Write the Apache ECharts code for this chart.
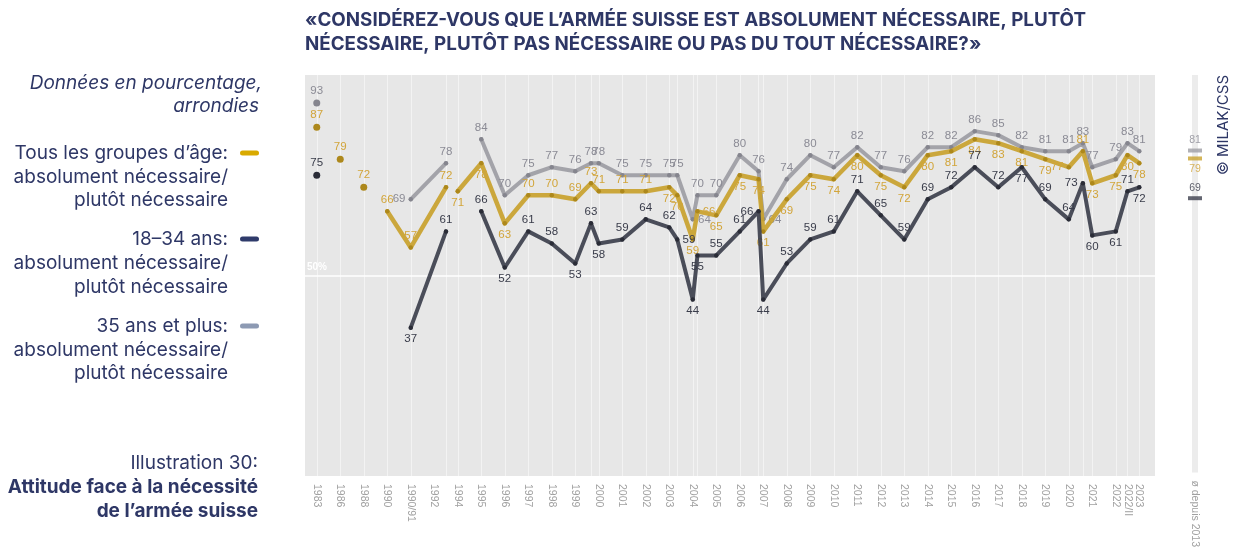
<!DOCTYPE html>
<html><head><meta charset="utf-8">
<script src="https://cdn.jsdelivr.net/npm/echarts@6/dist/echarts.min.js"></script>
<style>html,body{margin:0;padding:0;background:#fff}#c{width:1236px;height:550px}</style>
</head><body><div id="c"></div>
<script>
// ---- data ----
const surveyX = [0,1,2,3,4,5.5,6,7,8,9,10,11,11.67,12,13,14,15,15.34,16,16.2,17,18,18.8,19,20,21,22,23,24,25,26,27,28,29,30,31,32,32.6,33,34,34.5,35];
const tousAges = [87,79,72,66,57,72,71,78,63,70,70,69,73,71,71,71,72,70,59,66,65,75,74,61,69,75,74,80,75,72,80,81,84,83,81,79,77,81,73,75,80,78];
const ans35plus = [93,null,null,null,69,78,null,84,70,75,77,76,78,78,75,75,75,75,64,70,70,80,76,64,74,80,77,82,77,76,82,82,86,85,82,81,81,83,77,79,83,81];
const ans18_34 = [75,null,null,null,37,61,null,66,52,61,58,53,63,58,59,64,62,59,44,55,55,61,66,44,53,59,61,71,65,59,69,72,77,72,77,69,64,73,60,61,71,72];
const tousBreaksAfter = [0,1,2,5];
const xTickPos = [0,1,2,3,4,5,6,7,8,9,10,11,12,13,14,15,16,17,18,19,20,21,22,23,24,25,26,27,28,29,30,31,32,33,34,34.5,35];
const xTickLabels = ['1983','1986','1988','1990','1990/91','1992','1994','1995','1996','1997','1998','1999','2000','2001','2002','2003','2004','2005','2006','2007','2008','2009','2010','2011','2012','2013','2014','2015','2016','2017','2018','2019','2020','2021','2022','2022/II','2023'];
const avgLabel = 'ø depuis 2013';
const avgTous = 79, avg18_34 = 69, avg35plus = 81;

// ---- label placement (style) ----
const posTous = 'ttttttbbbtttttttbbbrbbbbbbbbbbbbbbbbltbbbb';
const pos35 = 't---lt-tttttttttttrttttrtttttttttttttttttt';
const pos18 = 't---bt-tbttbtbtttrbbttlbttttttttttbttlbbtb';
const posMap = {t:'top', b:'bottom', l:'left', r:'right'};

const NAVY = '#2e3766';
function buildData(vals, posStr, breaksAfter) {
  const out = [];
  vals.forEach((v, i) => {
    const x = surveyX[i];
    if (v === null) { out.push({value:[x,'-']}); }
    else {
      const prevOk = i > 0 && vals[i-1] !== null && !breaksAfter.includes(i-1);
      const nextOk = i < vals.length-1 && vals[i+1] !== null && !breaksAfter.includes(i);
      const isolated = !prevOk && !nextOk;
      out.push({value:[x,v], symbolSize: isolated ? 7 : 4.5, label:{position: posMap[posStr[i]] || 'top'}});
    }
    if (breaksAfter.includes(i) && i < vals.length-1) out.push({value:[(x+surveyX[i+1])/2,'-']});
  });
  return out;
}
function lineSeries(name, vals, posStr, breaks, lineColor, dotColor, labelColor, width, z) {
  return {
    name, type:'line', xAxisIndex:0, yAxisIndex:0, z,
    data: buildData(vals, posStr, breaks),
    connectNulls:false, symbol:'circle', showSymbol:true,
    lineStyle:{color:lineColor, width, opacity:0.92, cap:'round', join:'round'},
    itemStyle:{color:dotColor},
    label:{show:true, distance:3, color:labelColor, fontSize:11.5, fontFamily:'Liberation Sans, Arial, sans-serif',
      formatter: p => p.value[1]},
    emphasis:{disabled:true}, animation:false
  };
}

const gridLeft = 305, gridWidth = 850, gridTop = 75, gridBottom = 74;

const txt = (x, y, text, font, align, extra) => Object.assign({type:'text', x, y, silent:true,
  style:{text, font, fill:NAVY, textAlign:align || 'right', verticalAlign:'middle'}}, extra || {});
const LF = '19px Inter, sans-serif';
const TF = 'bold 18.8px Inter, sans-serif';

const option = {
  animation:false,
  backgroundColor:'#ffffff',
  grid:[
    {left:gridLeft, top:gridTop, width:gridWidth, bottom:gridBottom, show:true, backgroundColor:'#e7e7e7', borderWidth:0},
    {left:1192, top:gridTop, width:6, bottom:gridBottom, show:true, backgroundColor:'#ececec', borderWidth:0}
  ],
  xAxis:[
    {type:'value', gridIndex:0, min:-0.5, max:35.67,
      axisLine:{show:false}, axisTick:{show:false}, splitLine:{show:false},
      axisLabel:{customValues:xTickPos, rotate:-90, color:'#a0a0a0', fontSize:10.5, margin:8,
        fontFamily:'Liberation Sans, Arial, sans-serif',
        formatter: v => { const i = xTickPos.indexOf(v); return i >= 0 ? xTickLabels[i] : ''; }}},
    {type:'category', gridIndex:1, data:[avgLabel], boundaryGap:true,
      axisLine:{show:false}, axisTick:{show:false},
      axisLabel:{rotate:-90, color:'#a0a0a0', fontSize:10.5, margin:8, fontFamily:'Liberation Sans, Arial, sans-serif'}}
  ],
  yAxis:[
    {type:'value', gridIndex:0, min:0, max:100, show:false},
    {type:'value', gridIndex:1, min:0, max:100, show:false}
  ],
  series:[
    {type:'line', xAxisIndex:0, yAxisIndex:0, data:[], z:1, silent:true,
      markLine:{z:1, silent:true, symbol:['none','none'], animation:false,
        lineStyle:{color:'#f3f3f3', width:1, type:'solid'}, label:{show:false},
        data: surveyX.map(x => ({xAxis:x}))}},
    {type:'line', xAxisIndex:0, yAxisIndex:0, data:[], z:1, silent:true,
      markLine:{z:1, silent:true, symbol:['none','none'], animation:false,
        lineStyle:{color:'#ffffff', width:1.5, type:'solid'},
        label:{show:true, position:'insideStartTop', formatter:'50%', color:'#ffffff', fontSize:10, fontWeight:'bold', distance:[2,3]},
        data:[{yAxis:50}]}},
    lineSeries('35 ans et plus', ans35plus, pos35, [], '#9d9da4', '#85858e', '#8b8b95', 4, 3),
    lineSeries('Tous les groupes', tousAges, posTous, tousBreaksAfter, '#c9a22e', '#ad881c', '#d2a53a', 4.5, 4),
    lineSeries('18-34 ans', ans18_34, pos18, [], '#3d404d', '#2a2c37', '#393c4a', 4, 5),
    {type:'scatter', xAxisIndex:1, yAxisIndex:1, clip:false, symbol:'rect', symbolSize:[14,4], animation:false,
      label:{show:true, fontSize:10.5, fontFamily:'Liberation Sans, Arial, sans-serif', distance:3, formatter: p => p.value[1]},
      data:[
        {value:[avgLabel, avg35plus], itemStyle:{color:'#9d9da4'}, label:{position:'top', color:'#8b8b95'}},
        {value:[avgLabel, avgTous], itemStyle:{color:'#c9a22e'}, label:{position:'bottom', color:'#d2a53a'}},
        {value:[avgLabel, avg18_34], itemStyle:{color:'#3d404d'}, label:{position:'top', color:'#393c4a'}}
      ]}
  ],
  graphic:[
    txt(305, 20, '«CONSIDÉREZ-VOUS QUE L’ARMÉE SUISSE EST ABSOLUMENT NÉCESSAIRE, PLUTÔT', TF, 'left'),
    txt(305, 44, 'NÉCESSAIRE, PLUTÔT PAS NÉCESSAIRE OU PAS DU TOUT NÉCESSAIRE?»', TF, 'left'),
    txt(262, 83, 'Données en pourcentage,', 'italic 19px Inter, sans-serif'),
    txt(259, 106, 'arrondies', 'italic 19px Inter, sans-serif'),
    txt(228, 153, 'Tous les groupes d’âge:', LF),
    txt(228, 177, 'absolument nécessaire/', LF),
    txt(228, 200, 'plutôt nécessaire', LF),
    txt(228, 239, '18–34 ans:', LF),
    txt(228, 263, 'absolument nécessaire/', LF),
    txt(228, 287, 'plutôt nécessaire', LF),
    txt(228, 326, '35 ans et plus:', LF),
    txt(228, 350, 'absolument nécessaire/', LF),
    txt(228, 373, 'plutôt nécessaire', LF),
    txt(258, 463, 'Illustration 30:', LF),
    txt(258, 487, 'Attitude face à la nécessité', 'bold 19px Inter, sans-serif'),
    txt(258, 511, 'de l’armée suisse', 'bold 19px Inter, sans-serif'),
    {type:'rect', silent:true, shape:{x:240, y:150.5, width:19, height:5, r:2.5}, style:{fill:'#d9aa00'}},
    {type:'rect', silent:true, shape:{x:240, y:236.5, width:19, height:5, r:2.5}, style:{fill:'#2f3b6b'}},
    {type:'rect', silent:true, shape:{x:240, y:323.5, width:19, height:5, r:2.5}, style:{fill:'#8d9ab3'}},
    {type:'text', silent:true, x:1223, y:125, rotation:Math.PI/2,
      style:{text:'© MILAK/CSS', font:'15px Inter, sans-serif', fill:NAVY, textAlign:'center', verticalAlign:'middle'}}
  ]
};
const chart = echarts.init(document.getElementById('c'));
chart.setOption(option);
</script>
</body></html>
